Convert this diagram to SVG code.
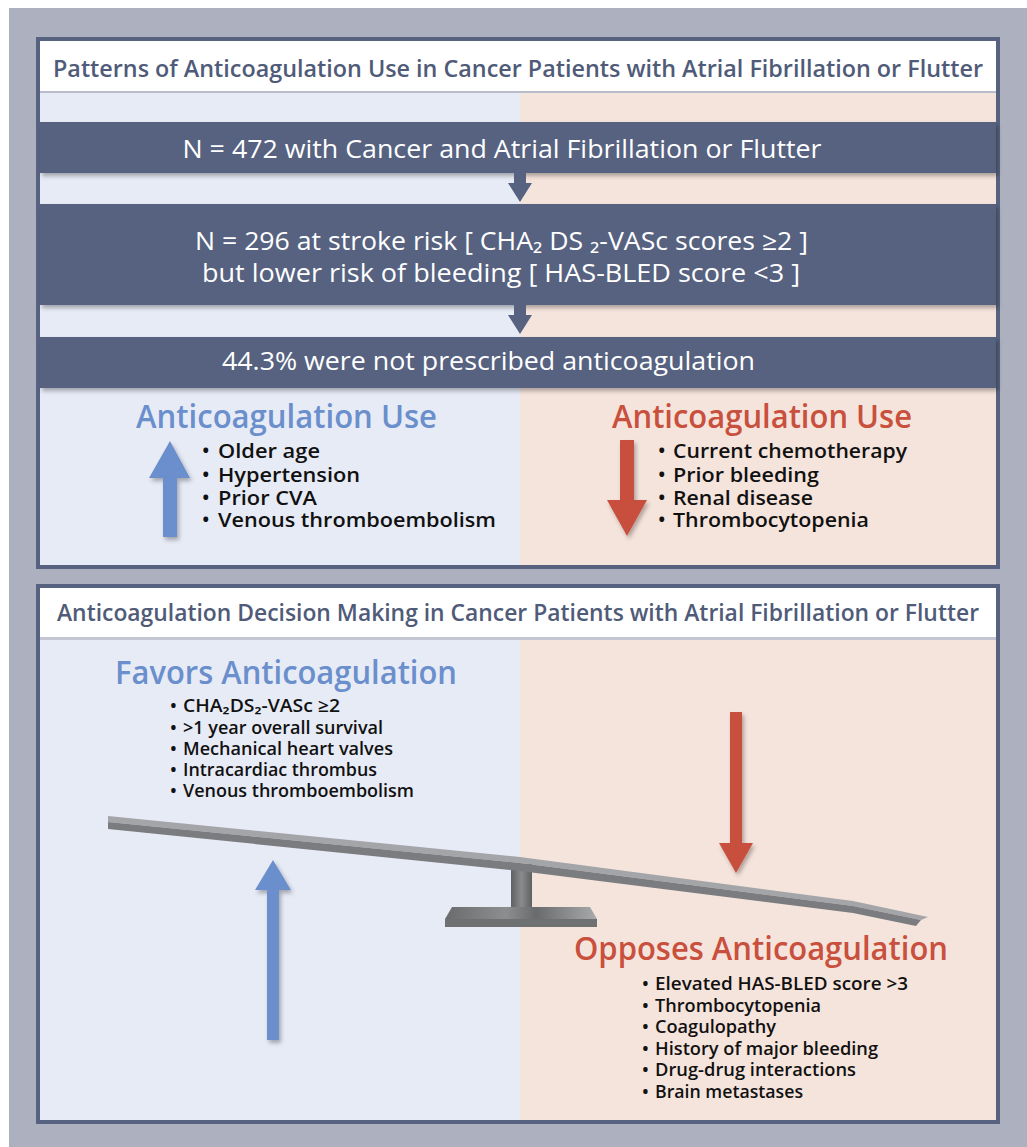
<svg xmlns="http://www.w3.org/2000/svg" width="1027" height="1147" viewBox="0 0 1027 1147">
<style>
.ttl{font-family:"Open Sans","Noto Sans",sans-serif;font-size:23.5px;fill:#4f5b78;font-weight:600}
.bar{font-family:"Open Sans","Noto Sans",sans-serif;font-size:25px;fill:#ffffff;font-weight:500}
.hb{font-family:"Open Sans","Noto Sans",sans-serif;font-size:33px;fill:#6a8fcc;font-weight:600}
.hr{font-family:"Open Sans","Noto Sans",sans-serif;font-size:33px;fill:#c8503c;font-weight:600}
.b1{font-family:"Open Sans","Noto Sans",sans-serif;font-size:20px;fill:#111;font-weight:600}
.b2{font-family:"Open Sans","Noto Sans",sans-serif;font-size:18px;fill:#111;font-weight:600}
.dark{fill:#56627f}
.lb{fill:#e7ebf6}
.pk{fill:#f5e4dc}
.frame{fill:none;stroke:#56627f;stroke-width:4}
</style>
<defs>
<filter id="sh" x="-30%" y="-30%" width="160%" height="160%">
<feDropShadow dx="2" dy="3" stdDeviation="2" flood-color="#000" flood-opacity="0.3"/>
</filter>
<linearGradient id="gpost" x1="0" y1="0" x2="1" y2="0">
<stop offset="0" stop-color="#5f6062"/><stop offset="0.5" stop-color="#8a8b8d"/><stop offset="1" stop-color="#5f6062"/>
</linearGradient>
<linearGradient id="gbase" x1="0" y1="0" x2="1" y2="0">
<stop offset="0" stop-color="#6a6b6d"/><stop offset="0.4" stop-color="#8d8e90"/><stop offset="0.6" stop-color="#6a6b6d"/><stop offset="1" stop-color="#a9aaac"/>
</linearGradient>
</defs>
<rect x="9" y="8" width="1018" height="1139" fill="#adb0bf"/>

<g id="panel1">
<rect x="40" y="41" width="480" height="524" class="lb"/>
<rect x="520" y="41" width="476" height="524" class="pk"/>
<rect x="40" y="41" width="956" height="50" fill="#ffffff"/>
<rect x="40" y="91" width="956" height="2" fill="#b8bccb"/>
<text x="518" y="77" class="ttl" text-anchor="middle" textLength="930" lengthAdjust="spacingAndGlyphs">Patterns of Anticoagulation Use in Cancer Patients with Atrial Fibrillation or Flutter</text>
<rect x="38" y="39" width="960" height="528" class="frame"/>
</g>

<g id="bar1">
<rect x="40" y="122" width="956" height="51" class="dark" filter="url(#sh)"/>
<text x="502" y="158" class="bar" text-anchor="middle" textLength="639" lengthAdjust="spacingAndGlyphs">N = 472 with Cancer and Atrial Fibrillation or Flutter</text>
</g>
<g id="bar2">
<rect x="40" y="204" width="956" height="101" class="dark" filter="url(#sh)"/>
<text x="195" y="250" class="bar" textLength="613" lengthAdjust="spacingAndGlyphs">N = 296 at stroke risk [ CHA₂ DS ₂-VASc scores ≥2 ]</text>
<text x="202" y="282" class="bar" textLength="598" lengthAdjust="spacingAndGlyphs">but lower risk of bleeding [ HAS-BLED score &lt;3 ]</text>
</g>
<g id="bar3">
<rect x="40" y="337" width="956" height="51" class="dark" filter="url(#sh)"/>
<text x="222" y="370" class="bar" textLength="533" lengthAdjust="spacingAndGlyphs">44.3% were not prescribed anticoagulation</text>
</g>

<g id="connectors">
<polygon points="514,173 526,173 526,183 532,183 520,202 508,183 514,183" class="dark"/>
<polygon points="514,305 526,305 526,315 532,315 520,334 508,315 514,315" class="dark"/>
</g>

<g id="use-up">
<text x="136" y="428" class="hb" textLength="301" lengthAdjust="spacingAndGlyphs">Anticoagulation Use</text>
<polygon points="170,441 190,478 177,478 177,537 163,537 163,478 149,478" fill="#6a8fcc" filter="url(#sh)"/>
<g class="b1">
<text x="202" y="458">•</text><text x="218" y="458" textLength="102" lengthAdjust="spacingAndGlyphs">Older age</text>
<text x="202" y="482">•</text><text x="218" y="482" textLength="142" lengthAdjust="spacingAndGlyphs">Hypertension</text>
<text x="202" y="505">•</text><text x="218" y="505" textLength="99" lengthAdjust="spacingAndGlyphs">Prior CVA</text>
<text x="202" y="527">•</text><text x="218" y="527" textLength="278" lengthAdjust="spacingAndGlyphs">Venous thromboembolism</text>
</g>
</g>

<g id="use-down">
<text x="612" y="428" class="hr" textLength="300" lengthAdjust="spacingAndGlyphs">Anticoagulation Use</text>
<polygon points="620,440 634,440 634,500 647,500 627,536 607,500 620,500" fill="#c8503c" filter="url(#sh)"/>
<g class="b1">
<text x="658" y="458">•</text><text x="673" y="458" textLength="234" lengthAdjust="spacingAndGlyphs">Current chemotherapy</text>
<text x="658" y="482">•</text><text x="673" y="482" textLength="146" lengthAdjust="spacingAndGlyphs">Prior bleeding</text>
<text x="658" y="505">•</text><text x="673" y="505" textLength="140" lengthAdjust="spacingAndGlyphs">Renal disease</text>
<text x="658" y="527">•</text><text x="673" y="527" textLength="196" lengthAdjust="spacingAndGlyphs">Thrombocytopenia</text>
</g>
</g>

<g id="panel2">
<rect x="40" y="588" width="480" height="532" class="lb"/>
<rect x="520" y="588" width="476" height="532" class="pk"/>
<rect x="40" y="588" width="956" height="49" fill="#ffffff"/>
<rect x="40" y="637" width="956" height="3" fill="#c4c7d3"/>
<text x="518" y="621" class="ttl" text-anchor="middle" textLength="922" lengthAdjust="spacingAndGlyphs">Anticoagulation Decision Making in Cancer Patients with Atrial Fibrillation or Flutter</text>
<rect x="38" y="586" width="960" height="536" class="frame"/>
</g>

<g id="favors">
<text x="115" y="684" class="hb" font-size="34" textLength="342" lengthAdjust="spacingAndGlyphs">Favors Anticoagulation</text>
<g class="b2">
<text x="170" y="712">•</text><text x="183" y="712" textLength="157" lengthAdjust="spacingAndGlyphs">CHA₂DS₂-VASc ≥2</text>
<text x="170" y="734">•</text><text x="183" y="734" textLength="200" lengthAdjust="spacingAndGlyphs">&gt;1 year overall survival</text>
<text x="170" y="755">•</text><text x="183" y="755" textLength="210" lengthAdjust="spacingAndGlyphs">Mechanical heart valves</text>
<text x="170" y="776">•</text><text x="183" y="776" textLength="194" lengthAdjust="spacingAndGlyphs">Intracardiac thrombus</text>
<text x="170" y="797">•</text><text x="183" y="797" textLength="231" lengthAdjust="spacingAndGlyphs">Venous thromboembolism</text>
</g>
<polygon points="273,860 291,890 279,890 279,1040 267,1040 267,890 255,890" fill="#6a8fcc" filter="url(#sh)"/>
</g>

<g id="opposes">
<polygon points="730,712 742,712 742,843 753,843 736,873 719,843 730,843" fill="#c8503c" filter="url(#sh)"/>
<text x="574" y="960" class="hr" font-size="34" textLength="374" lengthAdjust="spacingAndGlyphs">Opposes Anticoagulation</text>
<g class="b2">
<text x="642" y="990">•</text><text x="655" y="990" textLength="253" lengthAdjust="spacingAndGlyphs">Elevated HAS-BLED score &gt;3</text>
<text x="642" y="1012">•</text><text x="655" y="1012" textLength="166" lengthAdjust="spacingAndGlyphs">Thrombocytopenia</text>
<text x="642" y="1033">•</text><text x="655" y="1033" textLength="121" lengthAdjust="spacingAndGlyphs">Coagulopathy</text>
<text x="642" y="1055">•</text><text x="655" y="1055" textLength="223" lengthAdjust="spacingAndGlyphs">History of major bleeding</text>
<text x="642" y="1076">•</text><text x="655" y="1076" textLength="201" lengthAdjust="spacingAndGlyphs">Drug-drug interactions</text>
<text x="642" y="1098">•</text><text x="655" y="1098" textLength="148" lengthAdjust="spacingAndGlyphs">Brain metastases</text>
</g>
</g>

<g id="seesaw">
<rect x="511" y="864" width="21" height="45" fill="url(#gpost)"/>
<polygon points="452,907 590,907 597,919 445,919" fill="url(#gbase)"/>
<rect x="445" y="919" width="152" height="8" fill="#6f7072"/>
<polygon points="108,816 520,857 853,901 928,917 921,920 853,906 520,863 108,822" fill="#a4a5a8"/>
<polygon points="108,822 520,863 853,906 921,920 916,926 853,913 520,871 108,829" fill="#7b7c7f"/>
</g>
</svg>
